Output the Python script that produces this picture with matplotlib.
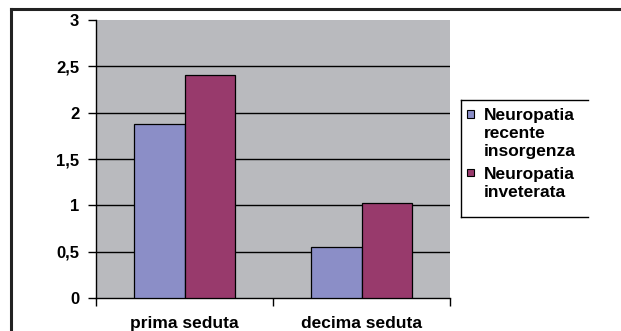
import matplotlib
matplotlib.use("Agg")
import matplotlib.pyplot as plt
from matplotlib.lines import Line2D
from matplotlib.patches import Rectangle
from matplotlib.font_manager import FontProperties
import numpy as np

categories = ["prima seduta", "decima seduta"]
series_names = ["Neuropatia\nrecente\ninsorgenza", "Neuropatia\ninveterata"]
recente = [1.88, 0.55]
inveterata = [2.41, 1.02]
y_ticks = [0, 0.5, 1, 1.5, 2, 2.5, 3]
y_tick_labels = ["0", "0,5", "1", "1,5", "2", "2,5", "3"]

colors = ["#8B8EC7", "#983A6C"]
plt.rcParams["font.family"] = ["Liberation Sans", "DejaVu Sans"]

tick_font = FontProperties(family="Liberation Sans", weight="bold", size=12)
cat_font = FontProperties(family="Liberation Sans", weight="bold", size=12.5)
leg_font = FontProperties(family="Liberation Sans", weight="bold", size=12.5)

W, H = 621, 331
fig = plt.figure(figsize=(W / 100, H / 100), dpi=100)
ax = fig.add_axes([96 / W, 33 / H, 354 / W, 278 / H])
ax.set_facecolor("#B9BABE")

x = np.arange(len(categories))
w = 0.285
ax.bar(x - w / 2, recente, w, color=colors[0], edgecolor="black", linewidth=0.9, zorder=3)
ax.bar(x + w / 2, inveterata, w, color=colors[1], edgecolor="black", linewidth=0.9, zorder=3)

ax.set_xlim(-0.5, len(categories) - 0.5)
ax.set_ylim(0, 3)
ax.set_yticks(y_ticks)
ax.set_yticklabels(y_tick_labels, fontproperties=tick_font)
for yv in y_ticks[1:-1]:
    ax.axhline(yv, color="black", linewidth=1.0, zorder=1)

# category ticks sit on the boundaries, labels in the middle
ax.set_xticks([-0.5, 0.5, 1.5])
ax.set_xticklabels([])
ax.set_xticks(x, minor=True)
ax.set_xticklabels(categories, minor=True, fontproperties=cat_font)
ax.tick_params(axis="x", which="minor", length=0, pad=13)
ax.tick_params(axis="x", which="major", length=6, width=1, direction="out")
ax.tick_params(axis="y", length=6, width=1, direction="out", pad=6)

for s in ["top", "right"]:
    ax.spines[s].set_visible(False)
for s in ["left", "bottom"]:
    ax.spines[s].set_linewidth(1.0)

# legend drawn by hand: square marker beside the first line of each entry
def fy(py):
    return 1 - py / H

entry_tops = [114, 173]
line_step = 18
for name, color, top in zip(series_names, colors, entry_tops):
    fig.add_artist(Rectangle((466.5 / W, fy(top + 3.5)), 7 / W, 7 / H, facecolor=color,
                             edgecolor="black", linewidth=0.8, transform=fig.transFigure))
    for i, line in enumerate(name.split("\n")):
        fig.text(484 / W, fy(top + i * line_step), line, fontproperties=leg_font,
                 va="center_baseline", ha="left")

# legend box outline (open on the right)
lx0, lx1 = 461 / W, 588 / W
ly0, ly1 = fy(217), fy(100)
for xs, ys in [([lx0, lx1], [ly1, ly1]), ([lx0, lx1], [ly0, ly0]), ([lx0, lx0], [ly0, ly1])]:
    fig.add_artist(Line2D(xs, ys, color="black", linewidth=1.0, transform=fig.transFigure))

# frame around the figure
fig.add_artist(Line2D([11 / W, 1], [fy(9), fy(9)], color="#222222", linewidth=2.2,
                      transform=fig.transFigure))
fig.add_artist(Line2D([11 / W, 11 / W], [0, fy(9)], color="#222222", linewidth=2.2,
                      transform=fig.transFigure))

fig.savefig("out.png", dpi=100)
